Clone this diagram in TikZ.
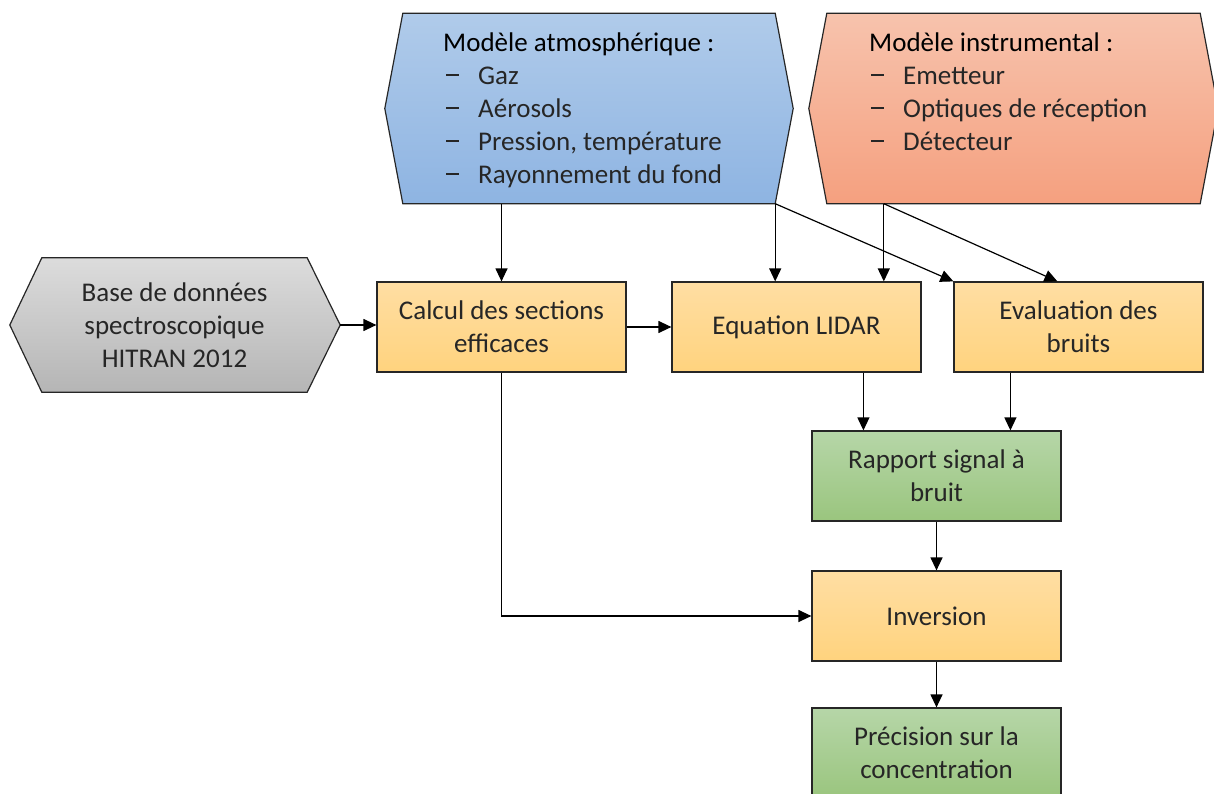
\documentclass[tikz,border=0pt]{standalone}
\usepackage{fontspec}
\setmainfont{Carlito}
\usetikzlibrary{arrows.meta,calc}
\definecolor{txt}{HTML}{262626}
\definecolor{blTop}{HTML}{B0CBEA}
\definecolor{blBot}{HTML}{8EB4E2}
\definecolor{orTop}{HTML}{F7C3AD}
\definecolor{orBot}{HTML}{F5A07F}
\definecolor{grTop}{HTML}{DCDCDC}
\definecolor{grBot}{HTML}{B5B5B5}
\definecolor{ylTop}{HTML}{FFDEA3}
\definecolor{ylBot}{HTML}{FFD37E}
\definecolor{gnTop}{HTML}{B6D6A8}
\definecolor{gnBot}{HTML}{9AC57E}
\tikzset{
  box/.style={draw=black!85, line width=1.2pt, minimum width=249pt, minimum height=90pt,
    inner sep=0pt, align=center, text=txt, font=\fontsize{27}{33}\selectfont},
  yellowbox/.style={box, top color=ylTop, bottom color=ylBot},
  greenbox/.style={box, top color=gnTop, bottom color=gnBot},
  frame/.style={inner sep=0pt},
  hexpath/.style={draw=black!85, line width=1.2pt},
  head/.style={anchor=base west, inner sep=0pt, text=black, font=\fontsize{27}{33}\selectfont},
  item/.style={anchor=base west, inner sep=0pt, text=txt, font=\fontsize{27}{33}\selectfont},
  arr/.style={-{Triangle[length=13pt,width=12pt]}, line width=1.2pt, draw=black}
}
\newcommand{\dashitem}[1]{\makebox[32pt][l]{\raisebox{8.5pt}{\rule{13pt}{2.5pt}}}#1}
\begin{document}
\begin{tikzpicture}[x=1pt,y=-1pt]
\useasboundingbox (0,0) rectangle (1214,794);

% hexagon frames
\node[frame, minimum width=372pt, minimum height=190pt] (atm) at (589,108.5) {};
\node[frame, minimum width=373pt, minimum height=190pt] (ins) at (1013.5,108.5) {};
\node[frame, minimum width=265pt, minimum height=134pt] (db) at (174.5,325) {};

\path[hexpath, top color=blTop, bottom color=blBot]
  (atm.north west) -- (atm.north east) -- ($(atm.east)+(18,0)$) -- (atm.south east)
  -- (atm.south west) -- ($(atm.west)+(-18,0)$) -- cycle;
\path[hexpath, top color=orTop, bottom color=orBot]
  (ins.north west) -- (ins.north east) -- ($(ins.east)+(18,0)$) -- (ins.south east)
  -- (ins.south west) -- ($(ins.west)+(-18,0)$) -- cycle;
\path[hexpath, top color=grTop, bottom color=grBot]
  (db.north west) -- (db.north east) -- ($(db.east)+(33,0)$) -- (db.south east)
  -- (db.south west) -- ($(db.west)+(-32,0)$) -- cycle;

% hexagon texts
\node[head] (atmh) at (443,52) {Modèle atmosphérique :};
\node[item] (atm1) at (446,85) {\dashitem{Gaz}};
\node[item] (atm2) at (446,118) {\dashitem{Aérosols}};
\node[item] (atm3) at (446,151) {\dashitem{Pression, température}};
\node[item] (atm4) at (446,184) {\dashitem{Rayonnement du fond}};

\node[head] (insh) at (869,52) {Modèle instrumental :};
\node[item] (ins1) at (871,85) {\dashitem{Emetteur}};
\node[item] (ins2) at (871,118) {\dashitem{Optiques de réception}};
\node[item] (ins3) at (871,151) {\dashitem{Détecteur}};

\node[align=center, text=txt, inner sep=0pt, font=\fontsize{27}{33}\selectfont] (dbt) at (db.center)
  {Base de données\\spectroscopique\\HITRAN 2012};

% boxes
\node[yellowbox] (calc) at (501.5,327) {Calcul des sections\\efficaces};
\node[yellowbox] (eq) at (796.5,327) {Equation LIDAR};
\node[yellowbox] (eval) at (1078.5,327) {Evaluation des\\bruits};
\node[greenbox] (rap) at (936.5,476) {Rapport signal à\\bruit};
\node[yellowbox] (inv) at (936.5,616) {Inversion};
\node[greenbox] (prec) at (936.5,753) {Précision sur la\\concentration};

% connector points
\coordinate (insout) at ($(ins.south west)+(57,0)$);
\coordinate (dbtip) at ($(db.east)+(33,0)$);

% connectors
\draw[arr] (atm.south -| calc.north) -- (calc.north);
\draw[arr] (atm.south east) -- (atm.south east |- eq.north);
\draw[arr] (atm.south east) -- (eval.north west);
\draw[arr] (insout) -- (insout |- eq.north);
\draw[arr] (insout) -- ([xshift=104pt]eval.north west);
\draw[arr] (dbtip) -- (dbtip -| calc.west);
\draw[arr] (calc.east) -- (eq.west);
\draw[arr] ([xshift=52pt]rap.north west |- eq.south) -- ([xshift=52pt]rap.north west);
\draw[arr] ([xshift=57pt]eval.south west) -- ([xshift=57pt]eval.south west |- rap.north);
\draw[arr] (rap.south) -- (inv.north);
\draw[arr] (calc.south) |- (inv.west);
\draw[arr] (inv.south) -- (prec.north);
\end{tikzpicture}
\end{document}
